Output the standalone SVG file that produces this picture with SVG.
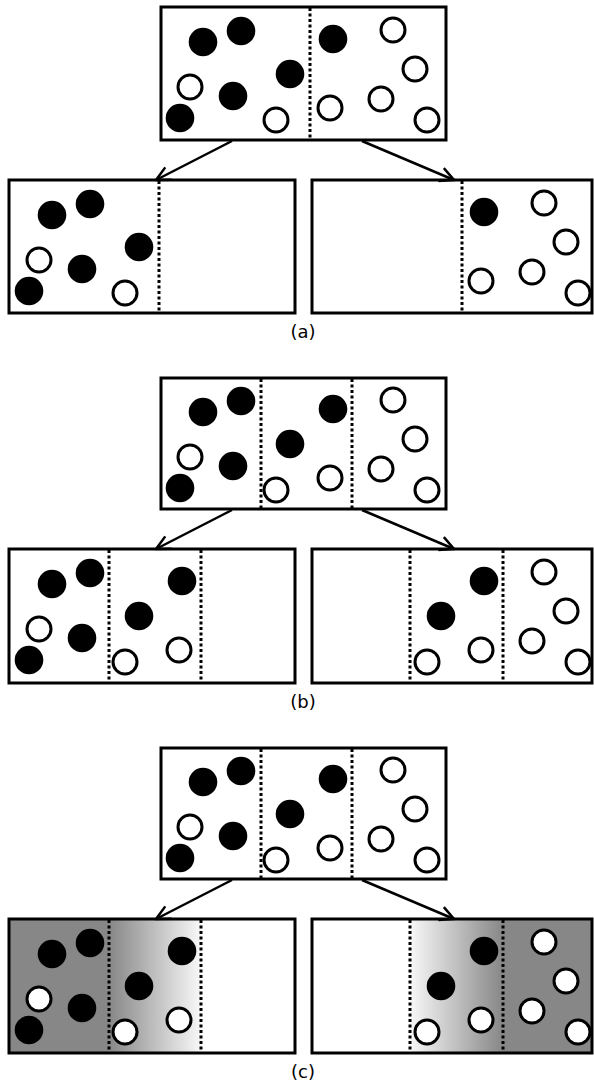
<svg xmlns="http://www.w3.org/2000/svg" xmlns:xlink="http://www.w3.org/1999/xlink" width="594" height="1081" viewBox="0 0 594 1081">
<style>
.box{fill:none;stroke:#000;stroke-width:3}
.bg{fill:#fff}
.div{stroke:#000;stroke-width:3;stroke-dasharray:3 2.5;fill:none}
.f{fill:#000}
.o{fill:#fff;stroke:#000;stroke-width:3}
.arr{stroke:#000;stroke-width:2.5;fill:none}
.lbl{font-family:"DejaVu Sans","Liberation Sans",sans-serif;font-size:18px;fill:#000;text-anchor:middle}
</style>
<defs>
<marker id="ah" markerUnits="userSpaceOnUse" markerWidth="18" markerHeight="18" viewBox="0 0 18 18" refX="16" refY="9" orient="auto">
<path d="M2,2 L16,9 L2,16" fill="none" stroke="#000" stroke-width="2.5"/>
</marker>
<linearGradient id="gL" x1="0" y1="0" x2="1" y2="0"><stop offset="0" stop-color="#878787"/><stop offset="1" stop-color="#f8f8f8"/></linearGradient>
<linearGradient id="gR" x1="0" y1="0" x2="1" y2="0"><stop offset="0" stop-color="#f8f8f8"/><stop offset="1" stop-color="#878787"/></linearGradient>
<g id="A">
<circle class="f" cx="203" cy="42" r="14.3"/>
<circle class="f" cx="241" cy="31" r="14.3"/>
<circle class="f" cx="233" cy="96" r="14.3"/>
<circle class="f" cx="180" cy="118" r="14.3"/>
<circle class="o" cx="190" cy="87" r="12"/>
</g>
<g id="B1">
<circle class="f" cx="290" cy="74" r="14.3"/>
<circle class="o" cx="276" cy="120" r="12"/>
</g>
<g id="B2">
<circle class="f" cx="333" cy="39" r="14.3"/>
<circle class="o" cx="330" cy="108" r="12"/>
</g>
<g id="C">
<circle class="o" cx="393" cy="30" r="12"/>
<circle class="o" cx="415" cy="69" r="12"/>
<circle class="o" cx="381" cy="99" r="12"/>
<circle class="o" cx="427" cy="120" r="12"/>
</g>
</defs>
<rect x="0" y="0" width="594" height="1081" fill="#fff"/>

<!-- Panel (a) -->
<g id="a-top">
<rect class="bg" x="161" y="7" width="285" height="133"/>
<line class="div" x1="310" y1="8" x2="310" y2="139"/>
<use xlink:href="#A"/><use xlink:href="#B1"/><use xlink:href="#B2"/><use xlink:href="#C"/>
<rect class="box" x="161" y="7" width="285" height="133"/>
</g>
<g id="a-left">
<rect class="bg" x="9" y="180" width="286" height="133"/>
<line class="div" x1="159" y1="181" x2="159" y2="312"/>
<use xlink:href="#A" transform="translate(-151,173)"/><use xlink:href="#B1" transform="translate(-151,173)"/>
<rect class="box" x="9" y="180" width="286" height="133"/>
</g>
<g id="a-right">
<rect class="bg" x="312" y="180" width="280" height="133"/>
<line class="div" x1="462" y1="181" x2="462" y2="312"/>
<use xlink:href="#B2" transform="translate(151,173)"/><use xlink:href="#C" transform="translate(151,173)"/>
<rect class="box" x="312" y="180" width="280" height="133"/>
</g>
<text class="lbl" x="303" y="338">(a)</text>

<!-- Panel (b) -->
<g id="b-top">
<rect class="bg" x="161" y="378" width="285" height="131"/>
<line class="div" x1="261" y1="379" x2="261" y2="508"/>
<line class="div" x1="352" y1="379" x2="352" y2="508"/>
<use xlink:href="#A" transform="translate(0,370)"/><use xlink:href="#B1" transform="translate(0,370)"/><use xlink:href="#B2" transform="translate(0,370)"/><use xlink:href="#C" transform="translate(0,370)"/>
<rect class="box" x="161" y="378" width="285" height="131"/>
</g>
<g id="b-left">
<rect class="bg" x="9" y="549" width="286" height="134"/>
<line class="div" x1="109" y1="550" x2="109" y2="682"/>
<line class="div" x1="201" y1="550" x2="201" y2="682"/>
<use xlink:href="#A" transform="translate(-151,542)"/><use xlink:href="#B1" transform="translate(-151,542)"/><use xlink:href="#B2" transform="translate(-151,542)"/>
<rect class="box" x="9" y="549" width="286" height="134"/>
</g>
<g id="b-right">
<rect class="bg" x="312" y="549" width="280" height="134"/>
<line class="div" x1="410" y1="550" x2="410" y2="682"/>
<line class="div" x1="503" y1="550" x2="503" y2="682"/>
<use xlink:href="#B1" transform="translate(151,542)"/><use xlink:href="#B2" transform="translate(151,542)"/><use xlink:href="#C" transform="translate(151,542)"/>
<rect class="box" x="312" y="549" width="280" height="134"/>
</g>
<text class="lbl" x="303" y="708">(b)</text>

<!-- Panel (c) -->
<g id="c-top">
<rect class="bg" x="161" y="748" width="285" height="131"/>
<line class="div" x1="261" y1="749" x2="261" y2="878"/>
<line class="div" x1="352" y1="749" x2="352" y2="878"/>
<use xlink:href="#A" transform="translate(0,740)"/><use xlink:href="#B1" transform="translate(0,740)"/><use xlink:href="#B2" transform="translate(0,740)"/><use xlink:href="#C" transform="translate(0,740)"/>
<rect class="box" x="161" y="748" width="285" height="131"/>
</g>
<g id="c-left">
<rect class="bg" x="9" y="919" width="286" height="134"/>
<rect x="9" y="919" width="100" height="134" fill="#878787"/>
<rect x="109" y="919" width="92" height="134" fill="url(#gL)"/>
<line class="div" x1="109" y1="920" x2="109" y2="1052"/>
<line class="div" x1="201" y1="920" x2="201" y2="1052"/>
<use xlink:href="#A" transform="translate(-151,912)"/><use xlink:href="#B1" transform="translate(-151,912)"/><use xlink:href="#B2" transform="translate(-151,912)"/>
<rect class="box" x="9" y="919" width="286" height="134"/>
</g>
<g id="c-right">
<rect class="bg" x="312" y="919" width="280" height="134"/>
<rect x="410" y="919" width="93" height="134" fill="url(#gR)"/>
<rect x="503" y="919" width="89" height="134" fill="#878787"/>
<line class="div" x1="410" y1="920" x2="410" y2="1052"/>
<line class="div" x1="503" y1="920" x2="503" y2="1052"/>
<use xlink:href="#B1" transform="translate(151,912)"/><use xlink:href="#B2" transform="translate(151,912)"/><use xlink:href="#C" transform="translate(151,912)"/>
<rect class="box" x="312" y="919" width="280" height="134"/>
</g>
<text class="lbl" x="303" y="1078">(c)</text>

<g id="connectors">
<line class="arr" x1="232" y1="141" x2="156" y2="180" marker-end="url(#ah)"/>
<line class="arr" x1="362" y1="141" x2="454" y2="180" marker-end="url(#ah)"/>
<line class="arr" x1="232" y1="510" x2="156" y2="549" marker-end="url(#ah)"/>
<line class="arr" x1="362" y1="510" x2="454" y2="549" marker-end="url(#ah)"/>
<line class="arr" x1="232" y1="880" x2="156" y2="919" marker-end="url(#ah)"/>
<line class="arr" x1="362" y1="880" x2="454" y2="919" marker-end="url(#ah)"/>
</g>
</svg>
